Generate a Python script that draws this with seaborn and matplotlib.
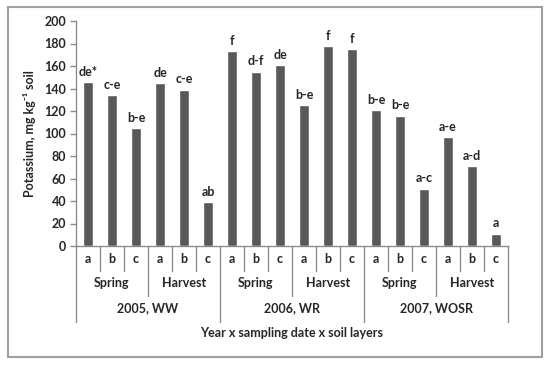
"""
Potassium content by year, sampling date and soil layer
Outputs the chart to out.png
"""

import matplotlib.pyplot as plt
import matplotlib.transforms as mtransforms
from matplotlib.patches import Rectangle
import pandas as pd
import seaborn as sns

years = ['2005, WW', '2006, WR', '2007, WOSR']
seasons = ['Spring', 'Harvest']
layers = ['a', 'b', 'c']
potassium = [146, 134, 105, 145, 139, 39,
             173, 155, 161, 125, 178, 175,
             121, 116, 51, 97, 71, 11]
letters = ['de*', 'c-e', 'b-e', 'de', 'c-e', 'ab',
           'f', 'd-f', 'de', 'b-e', 'f', 'f',
           'b-e', 'b-e', 'a-c', 'a-e', 'a-d', 'a']

sns.set_style('white')
plt.rcParams['font.family'] = ['Lato', 'DejaVu Sans']
plt.rcParams['font.weight'] = 'bold'

LINE = '#8c8c8c'
FS = 9


def main():
    rows = []
    for yr in years:
        for se in seasons:
            for la in layers:
                rows.append({'year': yr, 'season': se, 'layer': la,
                             'slot': f'{yr}|{se}|{la}'})
    df = pd.DataFrame(rows)
    df['potassium'] = potassium

    fig = plt.figure(figsize=(5.5, 3.65), dpi=100)
    ax = fig.add_axes([76 / 550, 1 - 246 / 365, 432 / 550, 225 / 365])

    sns.barplot(data=df, x='slot', y='potassium', color='#595959',
                saturation=1, width=0.42, ax=ax)

    ax.set_xlim(-0.5, len(df) - 0.5)
    ax.set_ylim(0, 200)
    ax.set_yticks(range(0, 201, 20))
    ax.set_xticks([])
    ax.set_xlabel('')
    ax.set_ylabel('Potassium, mg kg⁻¹ soil', fontsize=FS, fontweight='bold',
                  labelpad=6)
    ax.tick_params(axis='y', labelsize=FS, length=4, width=1, color=LINE,
                   direction='out', left=True, pad=3)
    for lab in ax.get_yticklabels():
        lab.set_fontweight('bold')
    for side in ['top', 'right']:
        ax.spines[side].set_visible(False)
    for side in ['left', 'bottom']:
        ax.spines[side].set_color(LINE)
        ax.spines[side].set_linewidth(1)

    # letters above bars
    for i, (v, t) in enumerate(zip(potassium, letters)):
        ax.annotate(t, (i, v), xytext=(0, 3), textcoords='offset points',
                    ha='center', va='bottom', fontsize=FS, fontweight='bold')

    # hierarchical category axis
    trans = mtransforms.blended_transform_factory(ax.transData, ax.transAxes)
    n = len(df)
    for i in range(n + 1):
        x = i - 0.5
        if i % 6 == 0:
            y_end = -0.338
        elif i % 3 == 0:
            y_end = -0.222
        else:
            y_end = -0.111
        ax.plot([x, x], [0, y_end], color=LINE, lw=1, transform=trans,
                clip_on=False)

    for i, la in enumerate(df['layer']):
        ax.text(i, -0.058, la, transform=trans, ha='center', va='center',
                fontsize=FS, fontweight='bold')
    for k in range(len(years) * len(seasons)):
        ax.text(k * 3 + 1, -0.164, seasons[k % 2], transform=trans,
                ha='center', va='center', fontsize=FS, fontweight='bold')
    for k, yr in enumerate(years):
        ax.text(k * 6 + 2.5, -0.276, yr, transform=trans, ha='center',
                va='center', fontsize=FS, fontweight='bold')
    ax.text(0.5, -0.387, 'Year x sampling date x soil layers',
            transform=ax.transAxes, ha='center', va='center', fontsize=FS,
            fontweight='bold')

    # outer chart frame
    fig.patches.append(Rectangle((8 / 550, 1 - 357 / 365), 534 / 550,
                                 350 / 365, transform=fig.transFigure,
                                 fill=False, edgecolor='#a0a0a0', lw=1.5))

    fig.savefig('out.png', dpi=100)


if __name__ == '__main__':
    main()
